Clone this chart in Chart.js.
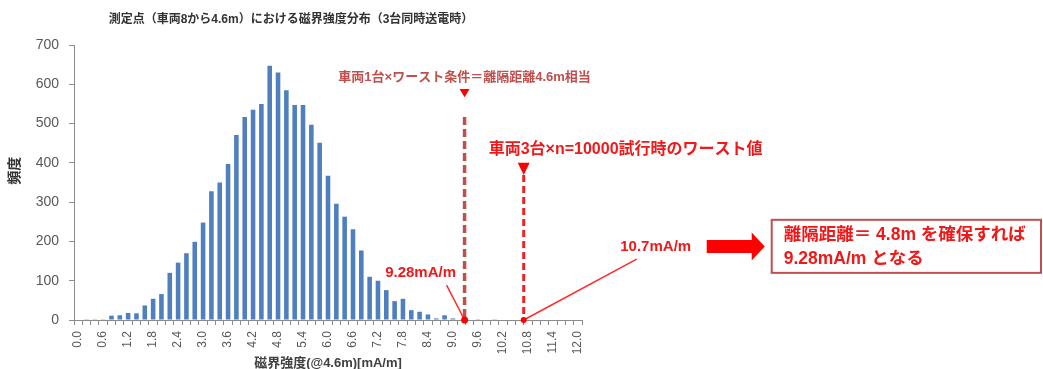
<!DOCTYPE html>
<html>
<head>
<meta charset="utf-8">
<script src="https://cdn.jsdelivr.net/npm/chart.js@4.4.1/dist/chart.umd.min.js"></script>
<style>
html,body{margin:0;padding:0;background:#fff;}
#wrap{width:1043px;height:369px;position:relative;}
</style>
</head>
<body>
<div id="wrap"><canvas id="c" width="1043" height="369"></canvas></div>
<script>
// ---- data ----
const categories = ['0.0','0.2','0.4','0.6','0.8','1.0','1.2','1.4','1.6','1.8','2.0','2.2','2.4','2.6','2.8','3.0','3.2','3.4','3.6','3.8','4.0','4.2','4.4','4.6','4.8','5.0','5.2','5.4','5.6','5.8','6.0','6.2','6.4','6.6','6.8','7.0','7.2','7.4','7.6','7.8','8.0','8.2','8.4','8.6','8.8','9.0','9.2','9.4','9.6','9.8','10.0','10.2','10.4','10.6','10.8','11.0','11.2','11.4','11.6','11.8','12.0'];
const frequency  = [0,2,2,2,11,12,18,17,37,54,66,120,146,170,199,248,328,350,397,471,517,535,550,647,630,585,547,547,497,451,367,296,263,231,177,110,100,76,48,54,25,21,14,4,12,4,1,0,2,0,2,0,0,0,0,0,0,0,0,0,0];
const tickLabels = ['0.0','0.6','1.2','1.8','2.4','3.0','3.6','4.2','4.8','5.4','6.0','6.6','7.2','7.8','8.4','9.0','9.6','10.2','10.8','11.4','12.0'];
const yTicks = [0,100,200,300,400,500,600,700];
const binWidth = 0.2;
const worstOneCar = 9.28;    // mA/m
const worstThreeCars = 10.7; // mA/m

const titleText = '測定点（車両8から4.6m）における磁界強度分布（3台同時送電時）';
const xTitle = '磁界強度(@4.6m)[mA/m]';
const yTitle = '頻度';
const note1 = '車両1台×ワースト条件＝離隔距離4.6m相当';
const note2 = '車両3台×n=10000試行時のワースト値';
const label1 = '9.28mA/m';
const label2 = '10.7mA/m';
const boxLines = ['離隔距離＝ 4.8m を確保すれば', '9.28mA/m となる'];

const FONT = "'Liberation Sans','Noto Sans CJK JP',sans-serif";
Chart.defaults.font.family = FONT;

const annot = {
  id: 'annot',
  afterDatasetsDraw(chart) {
    const ctx = chart.ctx;
    const xs = chart.scales.x, ys = chart.scales.y;
    const px = v => xs.getPixelForValue(v / binWidth);
    const py = v => ys.getPixelForValue(v);
    const x1 = px(worstOneCar), x2 = px(worstThreeCars);
    const base = py(0);
    ctx.save();
    // y-axis title
    ctx.save();
    ctx.translate(xs.left - 59, py(380));
    ctx.rotate(-Math.PI / 2);
    ctx.textAlign = 'center';
    ctx.textBaseline = 'middle';
    ctx.fillStyle = '#333333';
    ctx.font = 'bold 14px ' + FONT;
    ctx.fillText(yTitle, 0, 0);
    ctx.restore();
    // dashed line 1
    ctx.strokeStyle = '#c0504d';
    ctx.lineWidth = 3.5;
    ctx.setLineDash([8, 4]);
    ctx.beginPath(); ctx.moveTo(x1, py(517)); ctx.lineTo(x1, base); ctx.stroke();
    // dashed line 2
    ctx.strokeStyle = '#ee2222';
    ctx.lineWidth = 3;
    ctx.setLineDash([7, 4]);
    ctx.beginPath(); ctx.moveTo(x2, py(369)); ctx.lineTo(x2, base); ctx.stroke();
    ctx.setLineDash([]);
    // triangles
    ctx.fillStyle = '#ff0000';
    ctx.beginPath(); ctx.moveTo(x1 - 5, py(588)); ctx.lineTo(x1 + 5, py(588)); ctx.lineTo(x1, py(567)); ctx.closePath(); ctx.fill();
    ctx.beginPath(); ctx.moveTo(x2 - 6, py(400)); ctx.lineTo(x2 + 6, py(400)); ctx.lineTo(x2, py(369)); ctx.closePath(); ctx.fill();
    // leader lines
    ctx.strokeStyle = '#ff2a2a';
    ctx.lineWidth = 1.5;
    ctx.beginPath(); ctx.moveTo(x1 - 18, py(89)); ctx.lineTo(x1, base); ctx.stroke();
    ctx.beginPath(); ctx.moveTo(x2 + 113, py(155)); ctx.lineTo(x2, base); ctx.stroke();
    // dots
    ctx.fillStyle = '#ff0000';
    ctx.beginPath(); ctx.arc(x1, base, 3.5, 0, Math.PI * 2); ctx.fill();
    ctx.beginPath(); ctx.arc(x2, base, 3, 0, Math.PI * 2); ctx.fill();
    // texts
    ctx.textBaseline = 'middle';
    ctx.textAlign = 'center';
    ctx.fillStyle = '#c0504d';
    ctx.font = 'bold 13px ' + FONT;
    ctx.fillText(note1, x1, py(618));
    ctx.fillStyle = '#f01818';
    ctx.font = 'bold 16px ' + FONT;
    ctx.textAlign = 'left';
    ctx.fillText(note2, x2 - 35, py(435));
    ctx.font = 'bold 15px ' + FONT;
    ctx.textAlign = 'center';
    ctx.fillText(label1, x1 - 44, py(120));
    ctx.fillText(label2, x2 + 132, py(186));
    // big arrow
    const ay = py(187);
    const ax0 = x2 + 183, ax1 = x2 + 228, ax2 = x2 + 241;
    ctx.fillStyle = '#ff0000';
    ctx.beginPath();
    ctx.moveTo(ax0, ay - 6.5); ctx.lineTo(ax1, ay - 6.5); ctx.lineTo(ax1, ay - 14);
    ctx.lineTo(ax2, ay); ctx.lineTo(ax1, ay + 14); ctx.lineTo(ax1, ay + 6.5);
    ctx.lineTo(ax0, ay + 6.5); ctx.closePath(); ctx.fill();
    // box
    const bx0 = x2 + 248, bx1 = chart.width - 2;
    const by0 = py(255), by1 = py(120);
    ctx.fillStyle = '#ffffff';
    ctx.fillRect(bx0, by0, bx1 - bx0, by1 - by0);
    ctx.strokeStyle = '#c0504d';
    ctx.lineWidth = 2;
    ctx.strokeRect(bx0, by0, bx1 - bx0, by1 - by0);
    ctx.fillStyle = '#f01818';
    ctx.font = 'bold 17.5px ' + FONT;
    ctx.textAlign = 'left';
    ctx.fillText(boxLines[0], bx0 + 12, py(216));
    ctx.fillText(boxLines[1], bx0 + 12, py(155));
    ctx.restore();
  }
};

new Chart(document.getElementById('c'), {
  type: 'bar',
  data: {
    labels: categories,
    datasets: [{
      data: frequency,
      backgroundColor: '#4f7fbf',
      borderWidth: 0,
      barPercentage: 0.55,
      categoryPercentage: 1.0
    }]
  },
  options: {
    responsive: false,
    animation: false,
    layout: { padding: { left: 0, right: 461, top: 0, bottom: 0 } },
    plugins: {
      legend: { display: false },
      tooltip: { enabled: false },
      title: {
        display: true,
        text: titleText,
        color: '#333333',
        font: { size: 12, weight: 'bold' },
        padding: { top: 12.8, bottom: 17.8 }
      }
    },
    scales: {
      x: {
        grid: { display: true, drawOnChartArea: false, drawTicks: true, tickLength: 5, color: '#8c8c8c', offset: true },
        border: { display: true, color: '#8c8c8c', width: 1 },
        ticks: {
          autoSkip: false,
          minRotation: 90,
          maxRotation: 90,
          padding: 6,
          color: '#595959',
          font: { size: 12 },
          callback: function(v, i) { const l = categories[i]; return tickLabels.includes(l) ? l : ''; }
        },
        title: { display: true, text: xTitle, color: '#404040', font: { size: 13, weight: 'bold' }, padding: { top: 0, bottom: -2 } },
        afterFit(s) { s.height = 49; s.paddingLeft = 0; s.paddingRight = 0; }
      },
      y: {
        min: 0, max: 700,
        grid: { display: true, drawOnChartArea: false, drawTicks: true, tickLength: 5, color: '#8c8c8c' },
        border: { display: true, color: '#8c8c8c', width: 1 },
        afterBuildTicks(s) { s.ticks = yTicks.map(v => ({ value: v })); },
        ticks: { padding: 10, color: '#595959', font: { size: 14 } },
        title: { display: false, text: yTitle },
        afterFit(s) { s.width = 74; s.paddingTop = 0; s.paddingBottom = 0; }
      }
    }
  },
  plugins: [annot]
});
</script>
</body>
</html>
